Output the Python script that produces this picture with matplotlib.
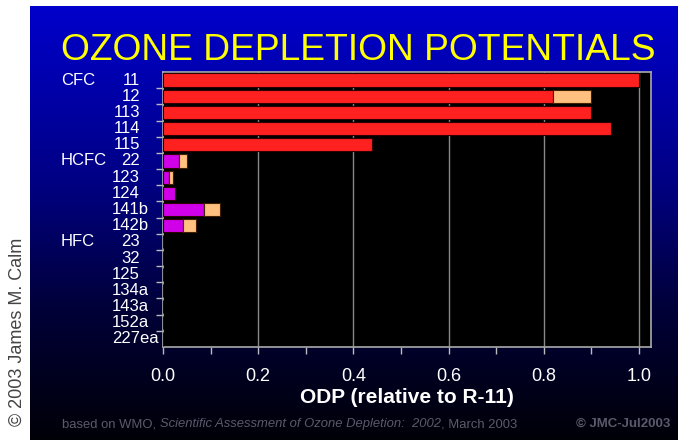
import numpy as np
import matplotlib
matplotlib.use("Agg")
import matplotlib.pyplot as plt
import matplotlib.transforms as mtrans
from matplotlib.colors import LinearSegmentedColormap

plt.rcParams['font.family'] = ['Liberation Sans', 'DejaVu Sans']

# ---- data ----
compounds = ['11', '12', '113', '114', '115', '22', '123', '124', '141b', '142b',
             '23', '32', '125', '134a', '143a', '152a', '227ea']
groups = {'CFC': 0, 'HCFC': 5, 'HFC': 10}
family = ['CFC'] * 5 + ['HCFC'] * 5 + ['HFC'] * 7
odp_low = [1.0, 0.82, 0.90, 0.94, 0.44, 0.034, 0.013, 0.025, 0.086, 0.043,
           0, 0, 0, 0, 0, 0, 0]
odp_high = [1.0, 0.90, 0.90, 0.94, 0.44, 0.050, 0.020, 0.025, 0.120, 0.070,
            0, 0, 0, 0, 0, 0, 0]
xticks = [0.0, 0.2, 0.4, 0.6, 0.8, 1.0]

W, H = 678, 440
fig = plt.figure(figsize=(W / 100, H / 100), dpi=100)
fig.patch.set_facecolor('white')

# gradient background panel
bg = fig.add_axes([30 / W, 0, 1 - 30 / W, 1 - 6 / H])
cmap = LinearSegmentedColormap.from_list(
    'bg', [(0, (0.0, 0.0, 0.03)), (0.3, (0.0, 0.0, 0.22)),
           (0.6, (0.0, 0.0, 0.52)), (1.0, (0.0, 0.0, 0.80))])
grad = np.linspace(0, 1, 256).reshape(-1, 1)
bg.imshow(grad, aspect='auto', cmap=cmap, origin='lower', extent=[0, 1, 0, 1])
bg.set_axis_off()

# main axes
ax = fig.add_axes([163 / W, 1 - 347 / H, (651 - 163) / W, (347 - 72) / H])
ax.set_facecolor('black')
n = len(compounds)
y = np.arange(n)
colors_main = {'CFC': '#ff2020', 'HCFC': '#d000e8', 'HFC': '#d000e8'}
low = np.array(odp_low)
high = np.array(odp_high)
ax.barh(y, low, height=0.82, color=[colors_main[f] for f in family],
        edgecolor='#300000', linewidth=0.8, zorder=3)
ext = high - low
mask = ext > 0
ax.barh(y[mask], ext[mask], left=low[mask], height=0.82, color='#ffc080',
        edgecolor='#402000', linewidth=0.8, zorder=3)

ax.set_xlim(0, 1.025)
ax.set_ylim(n - 0.5, -0.5)
ax.set_xticks(xticks)
ax.set_xticklabels([f'{v:.1f}' for v in xticks], color='white', fontsize=13)
ax.set_xticks(np.arange(0.1, 1.01, 0.2), minor=True)
ax.tick_params(axis='x', which='both', colors='#bbbbbb', length=5, width=1,
               direction='out', pad=10, labelcolor='white')
ax.set_yticks([])
ax.set_yticks(np.arange(0.5, n - 0.5, 1.0), minor=True)
ax.tick_params(axis='y', which='minor', colors='#bbbbbb', length=5, width=1,
               direction='out')
for v in xticks[1:]:
    ax.axvline(v, color='#888888', linewidth=1.0, zorder=1)
for s in ax.spines.values():
    s.set_color('#aaaaaa')
    s.set_linewidth(1.2)

ax.set_xlabel('ODP (relative to R-11)', color='white', fontsize=15,
              fontweight='bold', labelpad=2)

fig.canvas.draw()
r = fig.canvas.get_renderer()

# category labels: digits right-aligned at x=140 px, suffix follows
trans = mtrans.blended_transform_factory(fig.transFigure, ax.transData)
for i, c in enumerate(compounds):
    digits = ''.join(ch for ch in c if ch.isdigit())
    tmp = fig.text(0, 0, digits, fontsize=12)
    wd = tmp.get_window_extent(renderer=r).width
    tmp.remove()
    ax.text((140 - wd) / W, i, c, transform=trans, ha='left', va='center',
            color='white', fontsize=12)
for g, idx in groups.items():
    ax.text(61 / W, idx, g, transform=trans, ha='left', va='center',
            color='white', fontsize=12)

# title
fig.text(358 / W, 1 - 50 / H, 'OZONE DEPLETION POTENTIALS', color='#ffff00',
         fontsize=26.8, ha='center', va='center')

# footer
parts = [('based on WMO, ', 'normal'),
         ('Scientific Assessment of Ozone Depletion:  2002', 'italic'),
         (', March 2003', 'normal')]
xpos = 62
for txt, st in parts:
    t = fig.text(xpos / W, 1 - 424 / H, txt, color='#5a5a6a', fontsize=9.4,
                 style=st, ha='left', va='center')
    xpos += t.get_window_extent(renderer=r).width
fig.text(670 / W, 1 - 424 / H, '\u00a9 JMC-Jul2003', color='#5a5a6a',
         fontsize=9.5, fontweight='bold', ha='right', va='center')

# left rotated credit
fig.text(17 / W, 1 - 332 / H, '\u00a9 2003 James M. Calm', color='#444444',
         fontsize=13, rotation=90, ha='center', va='center')

fig.savefig('out.png', dpi=100, facecolor='white')
